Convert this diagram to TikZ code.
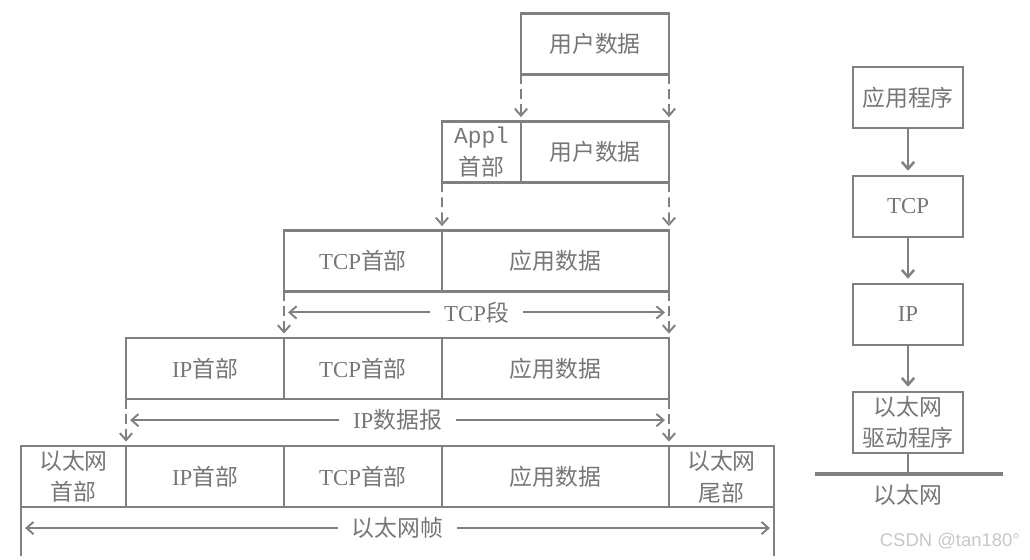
\documentclass[tikz,border=0pt]{standalone}
\usepackage{fontspec}
\setmainfont{Liberation Serif}
\setsansfont{Liberation Sans}
\setmonofont{Liberation Mono}
\newfontfamily\cjk{Noto Sans CJK SC}
\usepackage{xcolor}
\usetikzlibrary{calc,arrows.meta}
\definecolor{linegray}{RGB}{128,128,128}
\definecolor{textgray}{RGB}{118,118,118}
\newcommand{\zh}[1]{{\cjk #1}}

\begin{document}
\begin{tikzpicture}[x=0.02cm, y=-0.02cm,
    cell/.style={draw=linegray, line width=1.4pt, minimum width=#1, minimum height=1.22cm,
        inner sep=0pt, outer sep=0pt, align=center, text=textgray, font=\fontsize{13}{18}\selectfont},
    down/.style={draw=linegray, line width=1.1pt, dash pattern=on 5.5pt off 3pt,
        -{Straight Barb[length=4pt,width=7pt]}, shorten >=2.5pt},
    spanline/.style={draw=linegray, line width=1.1pt,
        {Straight Barb[length=4pt,width=7pt]}-{Straight Barb[length=4pt,width=7pt]}},
    lbl/.style={fill=white, text=textgray, font=\fontsize{13}{18}\selectfont, inner xsep=8pt},
    stackarrow/.style={draw=linegray, line width=1.4pt, -{Straight Barb[length=4pt,width=7pt]}, shorten >=3pt}]
    \useasboundingbox (0,0) rectangle (1030,560);

    % Encapsulation rows
    \node[cell=2.96cm] (ud1) at (595,44) {\zh{用户数据}};

    \node[cell=1.58cm] (ah2) at (481.5,152) {{\ttfamily Appl}\\\zh{首部}};
    \node[cell=2.96cm] (ud2) at (595,152) {\zh{用户数据}};

    \node[cell=3.16cm] (th3) at (363,261) {TCP\zh{首部}};
    \node[cell=4.54cm] (ad3) at (555.5,261) {\zh{应用数据}};

    \node[cell=3.16cm] (ih4) at (205,368.5) {IP\zh{首部}};
    \node[cell=3.16cm] (th4) at (363,368.5) {TCP\zh{首部}};
    \node[cell=4.54cm] (ad4) at (555.5,368.5) {\zh{应用数据}};

    \node[cell=2.1cm] (eh5) at (73.5,476.5) {\zh{以太网}\\\zh{首部}};
    \node[cell=3.16cm] (ih5) at (205,476.5) {IP\zh{首部}};
    \node[cell=3.16cm] (th5) at (363,476.5) {TCP\zh{首部}};
    \node[cell=4.54cm] (ad5) at (555.5,476.5) {\zh{应用数据}};
    \node[cell=2.1cm] (et5) at (721.5,476.5) {\zh{以太网}\\\zh{尾部}};

    % Dashed arrows between rows
    \draw[down] (ud1.south west) -- (ud2.north west);
    \draw[down] (ud1.south east) -- (ud2.north east);
    \draw[down] (ah2.south west) -- (ad3.north west);
    \draw[down] (ud2.south east) -- (ad3.north east);
    \draw[down] (th3.south west) -- (th4.north west);
    \draw[down] (ad3.south east) -- (ad4.north east);
    \draw[down] (ih4.south west) -- (ih5.north west);
    \draw[down] (ad4.south east) -- (ad5.north east);

    % Spans
    \coordinate (tcpL) at ($(th3.south west)!0.45!(th4.north west)$);
    \coordinate (tcpR) at ($(ad3.south east)!0.45!(ad4.north east)$);
    \draw[spanline] ([xshift=2.3pt]tcpL) -- node[lbl] (tcpseg) {TCP\zh{段}} ([xshift=-2.3pt]tcpR);

    \coordinate (ipL) at ($(ih4.south west)!0.45!(ih5.north west)$);
    \coordinate (ipR) at ($(ad4.south east)!0.45!(ad5.north east)$);
    \draw[spanline] ([xshift=2.3pt]ipL) -- node[lbl] (ipdg) {IP\zh{数据报}} ([xshift=-2.3pt]ipR);

    \coordinate (ethBL) at (21,556);
    \coordinate (ethBR) at (774,556);
    \draw[linegray, line width=1.1pt] (eh5.south west) -- (ethBL);
    \draw[linegray, line width=1.1pt] (et5.south east) -- (ethBR);
    \coordinate (ethL) at ($(eh5.south west)!0.43!(ethBL)$);
    \coordinate (ethR) at ($(et5.south east)!0.43!(ethBR)$);
    \draw[spanline] ([xshift=2.3pt]ethL) -- node[lbl] (frame) {\zh{以太网帧}} ([xshift=-2.3pt]ethR);

    % Protocol stack
    \node[cell=2.2cm] (app) at (908,97.5) {\zh{应用程序}};
    \node[cell=2.2cm] (tcp) at (908,206.5) {TCP};
    \node[cell=2.2cm] (ip) at (908,314.5) {IP};
    \node[cell=2.2cm] (drv) at (908,422.5) {\zh{以太网}\\\zh{驱动程序}};
    \draw[stackarrow] (app) -- (tcp);
    \draw[stackarrow] (tcp) -- (ip);
    \draw[stackarrow] (ip) -- (drv);

    \coordinate (busL) at (815,474);
    \coordinate (busR) at (1003,474);
    \draw[linegray, line width=2.3pt] (busL) -- (busR);
    \draw[linegray, line width=1.4pt] (drv.south) -- (drv.south |- busL);
    \node[text=textgray, font=\fontsize{13}{18}\selectfont] (bus) at (908,495) {\zh{以太网}};

    \node[anchor=east, text=black!22, font=\sffamily\fontsize{10.5}{12}\selectfont] (mark) at (1026,541) {CSDN @tan180°};
\end{tikzpicture}
\end{document}
